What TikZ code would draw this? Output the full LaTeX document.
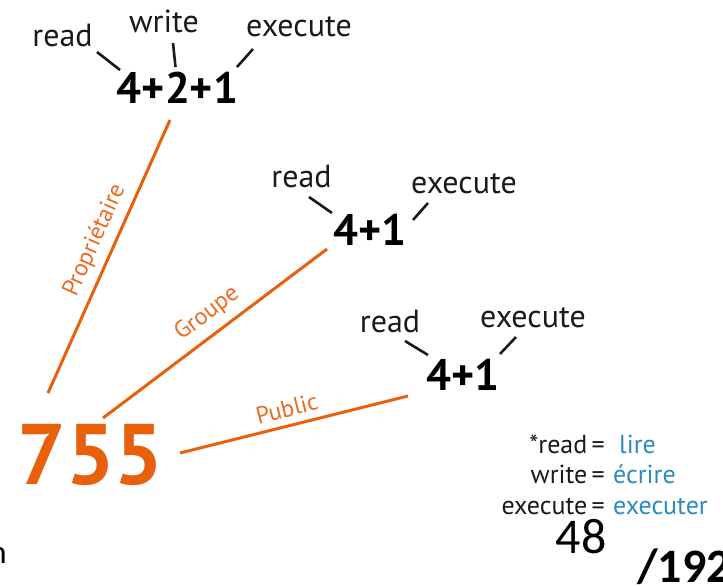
\documentclass[tikz,border=0pt]{standalone}
\usepackage{fontspec}
\setmainfont{PT Sans}
\newfontfamily\calib{Carlito}
\definecolor{orng}{HTML}{E8600C}
\definecolor{lorng}{HTML}{EC6A20}
\definecolor{lblue}{HTML}{2B8BBE}
\definecolor{dtext}{HTML}{1A1A1A}
\begin{document}
\begin{tikzpicture}[x=1pt,y=-1pt,
  perm/.style={inner sep=0pt,anchor=base,font=\fontsize{32}{35}\selectfont,text=dtext},
  sum/.style={inner sep=0pt,anchor=base,font=\fontsize{44}{48}\selectfont\bfseries,text=black},
  tick/.style={line width=2.6pt,dtext},
  oline/.style={line width=3pt,orng},
  olab/.style={inner sep=0pt,sloped,font=\fontsize{24}{27}\selectfont,text=lorng},
  leg/.style={inner sep=0pt,font=\fontsize{26}{29}\selectfont,text=dtext},
  legb/.style={inner sep=0pt,anchor=base west,font=\fontsize{26}{29}\selectfont,text=lblue}]
\useasboundingbox (0,0) rectangle (723,586);
% owner
\node[perm] (r1) at (62.5,47) {read};
\node[perm] (w1) at (164,33) {write};
\node[perm] (x1) at (299,37) {execute};
\node[sum] (s1) at (177.5,103) {4+2+1};
% group
\node[perm] (r2) at (301.5,187) {read};
\node[perm] (x2) at (464,193) {execute};
\node[sum] (s2) at (370,245) {4+1};
% public
\node[perm] (r3) at (390,332) {read};
\node[perm] (x3) at (533,327) {execute};
\node[sum] (s3) at (463,390) {4+1};
% 755
\node[inner sep=0pt,anchor=base,font=\fontsize{86}{90}\selectfont\bfseries,text=orng] (n755) at (90.5,484) {755};
% tick coordinates
\coordinate (t1a) at (97,52);  \coordinate (t1b) at (120,70);
\coordinate (t2a) at (173,43); \coordinate (t2b) at (175.5,67);
\coordinate (t3a) at (253,49); \coordinate (t3b) at (237,67);
\coordinate (t4a) at (309,197); \coordinate (t4b) at (332,213);
\coordinate (t5a) at (428,203); \coordinate (t5b) at (413,220);
\coordinate (t6a) at (405,341); \coordinate (t6b) at (428,355);
\coordinate (t7a) at (516,337); \coordinate (t7b) at (500,354);
\draw[tick] (t1a) -- (t1b);
\draw[tick] (t2a) -- (t2b);
\draw[tick] (t3a) -- (t3b);
\draw[tick] (t4a) -- (t4b);
\draw[tick] (t5a) -- (t5b);
\draw[tick] (t6a) -- (t6b);
\draw[tick] (t7a) -- (t7b);
% orange connectors
\coordinate (o1a) at (48,393);  \coordinate (o1b) at (170,120);
\coordinate (o2a) at (103,418); \coordinate (o2b) at (327,249);
\coordinate (o3a) at (180,453); \coordinate (o3b) at (408,396);
\draw[oline] (o1a) -- node[olab,pos=0.53,above=7pt] (lp) {Propriétaire} (o1b);
\draw[oline] (o2a) -- node[olab,pos=0.52,above=8pt] (lg) {Groupe} (o2b);
\draw[oline] (o3a) -- node[olab,pos=0.487,above=7pt] (lpub) {Public} (o3b);
% legend
\node[leg,anchor=base east] (l1) at (605,453) {*read\,=};
\node[legb] (l1b) at (619,453) {lire};
\node[leg,anchor=base east] (l2) at (605,483) {write\,=};
\node[legb] (l2b) at (613,483) {écrire};
\node[leg,anchor=base east] (l3) at (605,514) {execute\,=};
\node[legb] (l3b) at (613,514) {executer};
% slide numbers
\node[inner sep=0pt,anchor=base,font=\calib\fontsize{50}{54}\selectfont] (pg) at (581,553) {48};
\node[inner sep=0pt,anchor=base west,font=\calib\fontsize{48}{52}\selectfont\bfseries] (tot) at (637,582) {/192};
\node[inner sep=0pt,anchor=base east,font=\calib\fontsize{33}{36}\selectfont] (cut) at (7,563) {n};
\end{tikzpicture}
\end{document}
